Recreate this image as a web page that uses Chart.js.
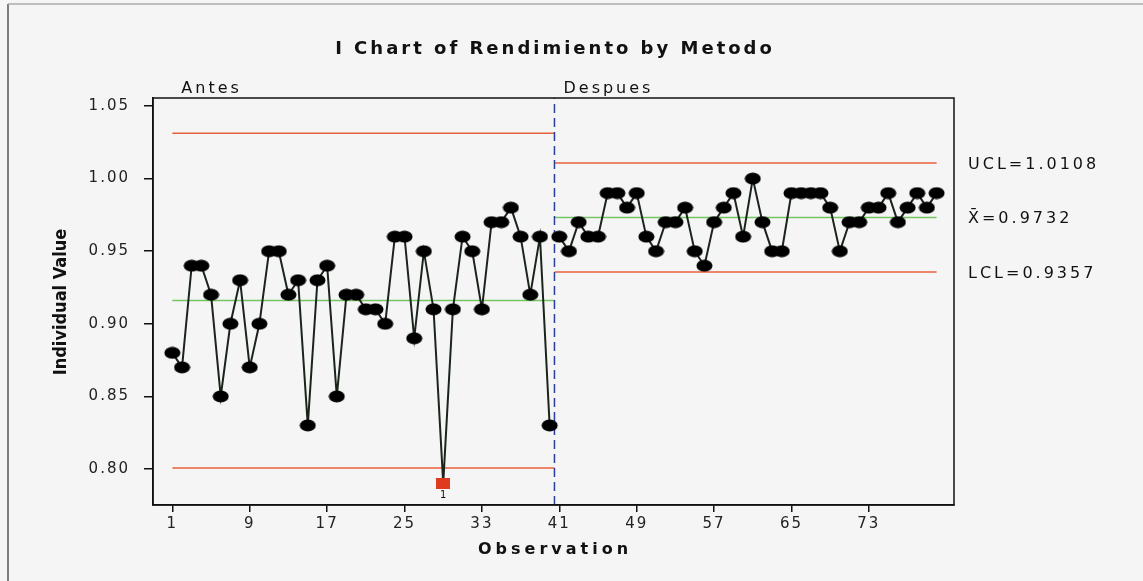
<!DOCTYPE html>
<html>
<head>
<meta charset="utf-8">
<script src="https://cdn.jsdelivr.net/npm/chart.js@4.4.0/dist/chart.umd.min.js"></script>
<style>
  html, body { margin: 0; padding: 0; background: #f5f5f5; }
  #wrap { width: 1143px; height: 581px; }
</style>
</head>
<body>
<div id="wrap"><canvas id="grafico"></canvas></div>
<script>
// Datos (Rendimiento por observacion)
const antesValues = [
  0.88, 0.87, 0.94, 0.94, 0.92, 0.85, 0.90, 0.93, 0.87, 0.90,
  0.95, 0.95, 0.92, 0.93, 0.83, 0.93, 0.94, 0.85, 0.92, 0.92,
  0.91, 0.91, 0.90, 0.96, 0.96, 0.89, 0.95, 0.91, 0.79, 0.91,
  0.96, 0.95, 0.91, 0.97, 0.97, 0.98, 0.96, 0.92, 0.96, 0.83
];
const despuesValues = [
  0.96, 0.95, 0.97, 0.96, 0.96, 0.99, 0.99, 0.98, 0.99, 0.96,
  0.95, 0.97, 0.97, 0.98, 0.95, 0.94, 0.97, 0.98, 0.99, 0.96,
  1.00, 0.97, 0.95, 0.95, 0.99, 0.99, 0.99, 0.99, 0.98, 0.95,
  0.97, 0.97, 0.98, 0.98, 0.99, 0.97, 0.98, 0.99, 0.98, 0.99
];

// Etapas y limites de control
const stageNames = ['Antes', 'Despues'];
const stageStart = [1, 40.5];
const stageEnd = [40.5, 80];
const uclValues = [1.0313, 1.0108];
const clValues = [0.9160, 0.9732];
const lclValues = [0.8007, 0.9357];

// Ticks de los ejes
const xTicks = [1, 9, 17, 25, 33, 41, 49, 57, 65, 73];
const yTicks = [0.80, 0.85, 0.90, 0.95, 1.00, 1.05];

const FONT = '"DejaVu Sans", Verdana, sans-serif';

// Marcadores: elipse negra y cuadrado rojo (fuera de control)
function makeEllipse() {
  const c = document.createElement('canvas');
  c.width = 17; c.height = 13;
  const g = c.getContext('2d');
  g.fillStyle = '#000';
  g.beginPath();
  g.ellipse(8.5, 6.5, 8, 6, 0, 0, Math.PI * 2);
  g.fill();
  return c;
}
function makeSquare() {
  const c = document.createElement('canvas');
  c.width = 14; c.height = 11;
  const g = c.getContext('2d');
  g.fillStyle = '#e03a1e';
  g.fillRect(0, 0, 14, 11);
  return c;
}
const ellipse = makeEllipse();
const square = makeSquare();

function toPoints(values, offset) {
  return values.map((v, i) => ({ x: i + 1 + offset, y: v }));
}

function limitLine(values, color, width) {
  return values.map((v, s) => ({
    data: [{ x: stageStart[s], y: v }, { x: stageEnd[s], y: v }],
    borderColor: color,
    borderWidth: width,
    pointRadius: 0,
    fill: false
  }));
}

const dataStyle = (stage) => ({
  borderColor: '#1b241b',
  borderWidth: 2,
  pointStyle: ctx => (ctx.raw && ctx.raw.y < lclValues[stage]) ? square : ellipse,
  pointRadius: 7,
  fill: false
});

const yMin = 0.7752, yMax = 1.0555;

const decor = {
  id: 'decor',
  beforeDraw(chart) {
    const c = chart.ctx;
    c.save();
    c.fillStyle = '#f5f5f5';
    c.fillRect(0, 0, chart.width, chart.height);
    // marco exterior
    c.strokeStyle = '#555';
    c.lineWidth = 1.5;
    c.beginPath();
    c.moveTo(8, chart.height);
    c.lineTo(8, 4);
    c.stroke();
    c.strokeStyle = '#aaa';
    c.beginPath();
    c.moveTo(8, 4);
    c.lineTo(chart.width, 4);
    c.stroke();
    c.restore();
    c.letterSpacing = '2px';
  },
  afterDraw(chart) {
    const c = chart.ctx;
    const a = chart.chartArea;
    const xs = chart.scales.x, ys = chart.scales.y;
    c.save();
    c.strokeStyle = '#111';
    c.lineWidth = 1.5;
    c.strokeRect(a.left, a.top, a.right - a.left, a.bottom - a.top);

    c.fillStyle = '#111';
    // titulo
    c.letterSpacing = '3px';
    c.font = 'bold 18px ' + FONT;
    c.textAlign = 'center';
    c.textBaseline = 'alphabetic';
    c.fillText('I Chart of Rendimiento by Metodo', 555, 54);

    // nombres de etapas
    c.letterSpacing = '3px';
    c.font = '16px ' + FONT;
    c.textAlign = 'left';
    stageNames.forEach((n, s) => {
      c.fillText(n, xs.getPixelForValue(stageStart[s]) + 9, 93);
    });

    // etiquetas de limites (ultima etapa)
    const last = stageNames.length - 1;
    c.textBaseline = 'middle';
    c.fillText('UCL=' + uclValues[last].toFixed(4), 968, ys.getPixelForValue(uclValues[last]) + 2);
    c.fillText('X\u0304=' + clValues[last].toFixed(4), 968, ys.getPixelForValue(clValues[last]) + 1);
    c.fillText('LCL=' + lclValues[last].toFixed(4), 968, ys.getPixelForValue(lclValues[last]) + 2);

    // marca "1" debajo de puntos fuera de control
    c.letterSpacing = '0px';
    c.font = '10px ' + FONT;
    c.textAlign = 'center';
    c.textBaseline = 'top';
    [antesValues, despuesValues].forEach((vals, s) => {
      vals.forEach((v, i) => {
        if (v < lclValues[s] || v > uclValues[s]) {
          const px = xs.getPixelForValue(i + 1 + s * antesValues.length);
          c.fillText('1', px, ys.getPixelForValue(v) + 7);
        }
      });
    });

    // titulos de ejes
    c.letterSpacing = '4px';
    c.font = 'bold 16px ' + FONT;
    c.textBaseline = 'alphabetic';
    c.fillText('Observation', 555, 554);

    c.letterSpacing = '0px';
    c.translate(61, 302);
    c.rotate(-Math.PI / 2);
    c.font = 'bold 18px "DejaVu Sans Condensed", "Liberation Sans Narrow", sans-serif';
    c.textBaseline = 'middle';
    c.fillText('Individual Value', 0, 0);
    c.restore();
  }
};

new Chart(document.getElementById('grafico'), {
  type: 'line',
  data: {
    datasets: [
      Object.assign({ data: toPoints(antesValues, 0) }, dataStyle(0)),
      Object.assign({ data: toPoints(despuesValues, antesValues.length) }, dataStyle(1)),
      {
        data: [{ x: 40.5, y: yMin }, { x: 40.5, y: yMax }],
        borderColor: '#2b3f9c',
        borderWidth: 1.5,
        borderDash: [9, 5],
        pointRadius: 0
      },
      ...limitLine(clValues, '#74c660', 1.5),
      ...limitLine(uclValues, '#e8603c', 1.5),
      ...limitLine(lclValues, '#e8603c', 1.5)
    ]
  },
  options: {
    responsive: true,
    maintainAspectRatio: false,
    animation: false,
    layout: { padding: { top: 98, right: 189, left: 0, bottom: 0 } },
    plugins: {
      legend: { display: false },
      tooltip: { enabled: false }
    },
    scales: {
      x: {
        type: 'linear',
        min: -1,
        max: 81.8,
        afterBuildTicks: s => { s.ticks = xTicks.map(v => ({ value: v })); },
        afterFit: s => { s.height = 76; },
        grid: { drawOnChartArea: false, drawTicks: true, tickLength: 7, color: '#111', lineWidth: 1.5 },
        border: { display: true, color: '#111', width: 1.5 },
        ticks: { color: '#222', padding: 3, maxRotation: 0, font: { family: FONT, size: 15 } }
      },
      y: {
        min: yMin,
        max: yMax,
        afterBuildTicks: s => { s.ticks = yTicks.map(v => ({ value: v })); },
        afterFit: s => { s.width = 153; },
        grid: { drawOnChartArea: false, drawTicks: true, tickLength: 9, color: '#111', lineWidth: 1.5 },
        border: { display: true, color: '#111', width: 1.5 },
        ticks: {
          color: '#222',
          padding: 14,
          font: { family: FONT, size: 15 },
          callback: v => Number(v).toFixed(2)
        }
      }
    }
  },
  plugins: [decor]
});
</script>
</body>
</html>
